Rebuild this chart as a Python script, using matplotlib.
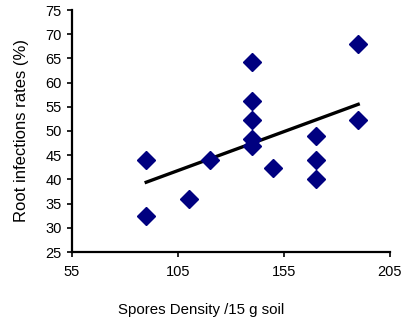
import numpy as np
import matplotlib
matplotlib.use("Agg")
import matplotlib.pyplot as plt

plt.rcParams['font.family'] = ['Liberation Sans', 'DejaVu Sans']

# spores density vs root infection rate
spores = [90, 90, 110, 120, 140, 140, 140, 140, 140, 150, 170, 170, 170, 190, 190]
infection = [44, 32.4, 36, 44, 64.3, 56.2, 52.3, 48.3, 47, 42.3, 49, 44, 40, 67.9, 52.3]
x_ticks = [55, 105, 155, 205]
y_ticks = [25, 30, 35, 40, 45, 50, 55, 60, 65, 70, 75]

fig = plt.figure(figsize=(4.03, 3.26), dpi=100)
ax = fig.add_axes([72 / 403, 74 / 326, 318 / 403, 242 / 326])

ax.plot(spores, infection, 'D', color='#000080', markersize=9, zorder=3)

# linear trend line
coef = np.polyfit(spores, infection, 1)
xs = np.array([min(spores), max(spores)])
ax.plot(xs, np.polyval(coef, xs), color='black', linewidth=2.4, zorder=2)

ax.set_xlim(55, 205)
ax.set_ylim(25, 75)
ax.set_xticks(x_ticks)
ax.set_yticks(y_ticks)
ax.tick_params(axis='both', labelsize=10.5, width=1.2, length=3.5, color='black')
ax.tick_params(axis='x', pad=6)
ax.tick_params(axis='y', pad=4)

for side in ['top', 'right']:
    ax.spines[side].set_visible(False)
for side in ['left', 'bottom']:
    ax.spines[side].set_linewidth(1.6)

ax.set_xlabel('Spores Density /15 g soil', fontsize=10.8)
ax.xaxis.set_label_coords(0.406, -0.21)
ax.set_ylabel('Root infections rates (%)', fontsize=12)
ax.yaxis.set_label_coords(-0.135, 0.5)

fig.savefig('out.png', dpi=100)
